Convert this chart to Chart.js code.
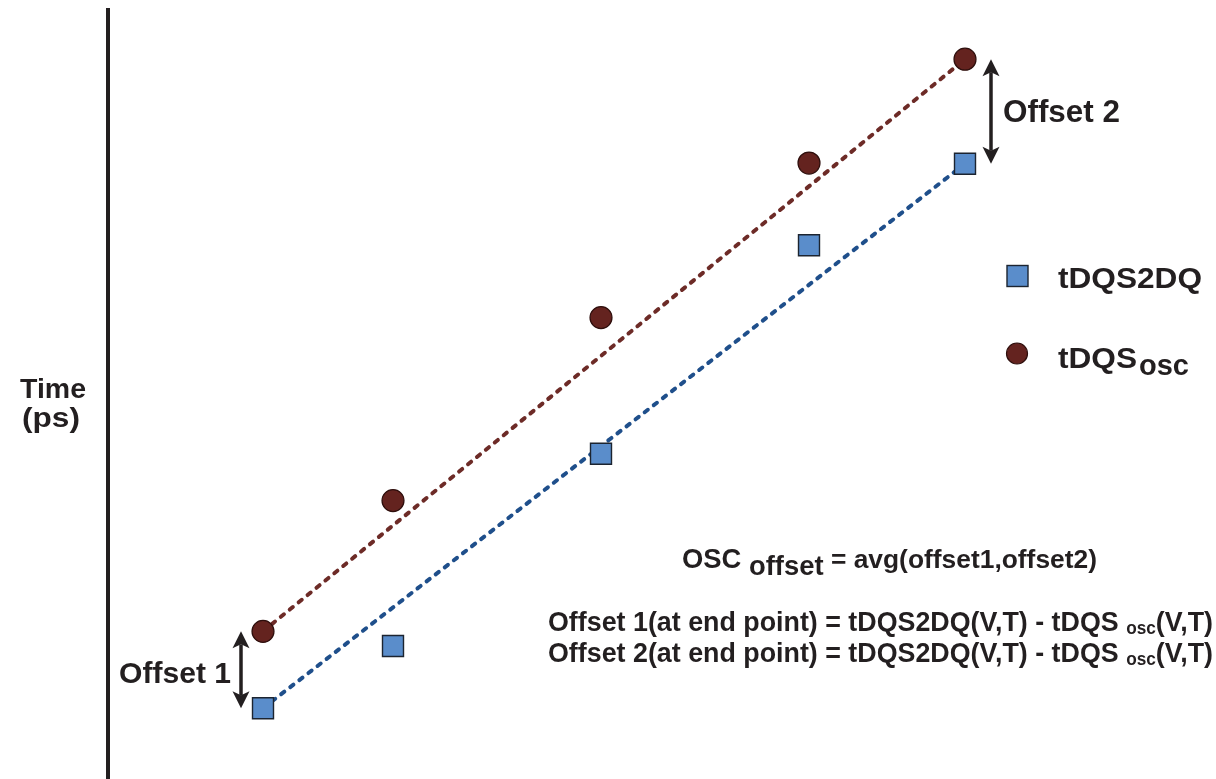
<!DOCTYPE html>
<html>
<head>
<meta charset="utf-8">
<script src="https://cdn.jsdelivr.net/npm/chart.js@4.4.1/dist/chart.umd.min.js"></script>
<style>
  html, body { margin: 0; padding: 0; background: #fff; }
  canvas { display: block; }
</style>
</head>
<body>
<canvas id="chart" width="1216" height="779"></canvas>
<script>
const sweep = [15.5, 28.5, 49.3, 70.1, 85.7];
const tDQS2DQ = [9.2, 17.3, 42.3, 69.4, 80.0];
const tDQSosc = [19.2, 36.2, 60.0, 80.1, 93.6];

const seriesNames = ["tDQS2DQ", "tDQS"];
const seriesSubs = ["", "osc"];
const axisTitle = ["Time", "(ps)"];
const offsetLabels = ["Offset 1", "Offset 2"];
const formulaTop = ["OSC", " offset", " = avg(offset1,offset2)"];
const formulaRows = [
  ["Offset 1(at end point) = tDQS2DQ(V,T) - tDQS ", "osc", "(V,T)"],
  ["Offset 2(at end point) = tDQS2DQ(V,T) - tDQS ", "osc", "(V,T)"],
];

const INK = "#231f20";
const FONT = '"Liberation Sans", Arial, Helvetica, sans-serif';
const BLUE_FILL = "#5a8dcb";
const BLUE_LINE = "#1f4f8b";
const RED_FILL = "#64231f";
const RED_LINE = "#6d2b27";

const toPoints = (xs, ys) => xs.map((v, i) => ({ x: v, y: ys[i] }));
// straight line through the two end points of a series
const endLine = (xs, ys) => [
  { x: xs[0], y: ys[0] },
  { x: xs[xs.length - 1], y: ys[ys.length - 1] },
];

function fitText(ctx, text, x, y, size, width, align) {
  ctx.font = `bold ${size}px ${FONT}`;
  const w = ctx.measureText(text).width;
  const sx = width ? width / w : 1;
  ctx.save();
  ctx.translate(x, y);
  ctx.scale(sx, 1);
  ctx.textAlign = align || "left";
  ctx.fillText(text, 0, 0);
  ctx.restore();
}

// several runs of text on one baseline, squeezed to a total width
function drawRuns(ctx, runs, left, baseline, width) {
  let total = 0;
  runs.forEach((r) => {
    ctx.font = `bold ${r.size}px ${FONT}`;
    r.w = ctx.measureText(r.t).width;
    total += r.w;
  });
  const sx = width / total;
  ctx.save();
  ctx.translate(left, baseline);
  ctx.scale(sx, 1);
  ctx.textAlign = "left";
  let cx = 0;
  runs.forEach((r) => {
    ctx.font = `bold ${r.size}px ${FONT}`;
    ctx.fillText(r.t, cx, r.dy || 0);
    cx += r.w;
  });
  ctx.restore();
}

function arrow(ctx, x, yTop, yBot) {
  const head = 17, half = 8.5;
  ctx.lineWidth = 3.5;
  ctx.beginPath();
  ctx.moveTo(x, yTop + head - 4);
  ctx.lineTo(x, yBot - head + 4);
  ctx.stroke();
  [[yTop, 1], [yBot, -1]].forEach(([tip, dir]) => {
    ctx.beginPath();
    ctx.moveTo(x, tip);
    ctx.lineTo(x + half, tip + dir * head);
    ctx.lineTo(x, tip + dir * (head - 4));
    ctx.lineTo(x - half, tip + dir * head);
    ctx.closePath();
    ctx.fill();
  });
}

const annotations = {
  id: "annotations",
  afterDatasetsDraw(chart) {
    const { ctx } = chart;
    const xs = chart.scales.x, ys = chart.scales.y;
    const first = 0, last = sweep.length - 1;
    ctx.save();
    ctx.fillStyle = INK;
    ctx.strokeStyle = INK;
    ctx.textBaseline = "alphabetic";

    // axis title
    fitText(ctx, axisTitle[0], 53, 398, 28, 66, "center");
    fitText(ctx, axisTitle[1], 51, 427, 28, 58, "center");

    // offset arrows between the two series at both end points
    const a1x = xs.getPixelForValue(sweep[first]) - 22;
    arrow(ctx, a1x, ys.getPixelForValue(tDQSosc[first]), ys.getPixelForValue(tDQS2DQ[first]));
    fitText(ctx, offsetLabels[0], a1x - 10, 683, 30, 112, "right");

    const a2x = xs.getPixelForValue(sweep[last]) + 26;
    arrow(ctx, a2x, ys.getPixelForValue(tDQSosc[last]), ys.getPixelForValue(tDQS2DQ[last]));
    fitText(ctx, offsetLabels[1], a2x + 12, 122, 32, 117, "left");

    // legend
    const sq = chart.data.datasets[2], ci = chart.data.datasets[3];
    ctx.fillStyle = sq.backgroundColor;
    ctx.strokeStyle = sq.borderColor;
    ctx.lineWidth = sq.borderWidth;
    ctx.fillRect(1007, 265.5, 21, 21);
    ctx.strokeRect(1007, 265.5, 21, 21);
    ctx.fillStyle = ci.backgroundColor;
    ctx.strokeStyle = ci.borderColor;
    ctx.lineWidth = ci.borderWidth;
    ctx.beginPath();
    ctx.arc(1017, 353.5, 10.5, 0, Math.PI * 2);
    ctx.fill();
    ctx.stroke();

    ctx.fillStyle = INK;
    fitText(ctx, seriesNames[0], 1058, 288, 29, 144, "left");
    fitText(ctx, seriesNames[1], 1058, 368, 29, 79, "left");
    fitText(ctx, seriesSubs[1], 1139, 375, 30, 50, "left");

    // formulas
    drawRuns(ctx, [
      { t: formulaTop[0], size: 27 },
      { t: formulaTop[1], size: 27, dy: 7 },
      { t: formulaTop[2], size: 26 },
    ], 682, 568, 415);
    formulaRows.forEach((row, i) => {
      drawRuns(ctx, [
        { t: row[0], size: 28 },
        { t: row[1], size: 18, dy: 3 },
        { t: row[2], size: 28 },
      ], 548, 631 + i * 31, 665);
    });

    ctx.restore();
  },
};

new Chart(document.getElementById("chart"), {
  type: "scatter",
  data: {
    datasets: [
      {
        label: "tDQS2DQ end line",
        data: endLine(sweep, tDQS2DQ),
        showLine: true,
        borderColor: BLUE_LINE,
        borderWidth: 4,
        borderDash: [4, 7.5],
        borderCapStyle: "round",
        pointRadius: 0,
        order: 2,
      },
      {
        label: "tDQSosc end line",
        data: endLine(sweep, tDQSosc),
        showLine: true,
        borderColor: RED_LINE,
        borderWidth: 4,
        borderDash: [4, 7.5],
        borderCapStyle: "round",
        pointRadius: 0,
        order: 2,
      },
      {
        label: seriesNames[0],
        data: toPoints(sweep, tDQS2DQ),
        pointStyle: "rect",
        pointRadius: 14.85,
        pointHoverRadius: 14.85,
        backgroundColor: BLUE_FILL,
        borderColor: "#1c2430",
        borderWidth: 1.4,
        order: 1,
      },
      {
        label: seriesNames[1] + seriesSubs[1],
        data: toPoints(sweep, tDQSosc),
        pointStyle: "circle",
        pointRadius: 11,
        pointHoverRadius: 11,
        backgroundColor: RED_FILL,
        borderColor: "#2e0f0d",
        borderWidth: 1.2,
        order: 1,
      },
    ],
  },
  options: {
    responsive: false,
    animation: false,
    layout: { autoPadding: false, padding: { top: 10, right: 108, bottom: 0, left: 0 } },
    plugins: {
      legend: { display: false },
      tooltip: { enabled: false },
    },
    scales: {
      x: { type: "linear", min: 0, max: 100, display: false },
      y: {
        type: "linear",
        min: 0,
        max: 100,
        position: "left",
        grid: { display: false },
        ticks: { display: false },
        border: { display: true, width: 4, color: INK },
        afterFit(scale) { scale.width = 108; },
      },
    },
  },
  plugins: [annotations],
});
</script>
</body>
</html>
